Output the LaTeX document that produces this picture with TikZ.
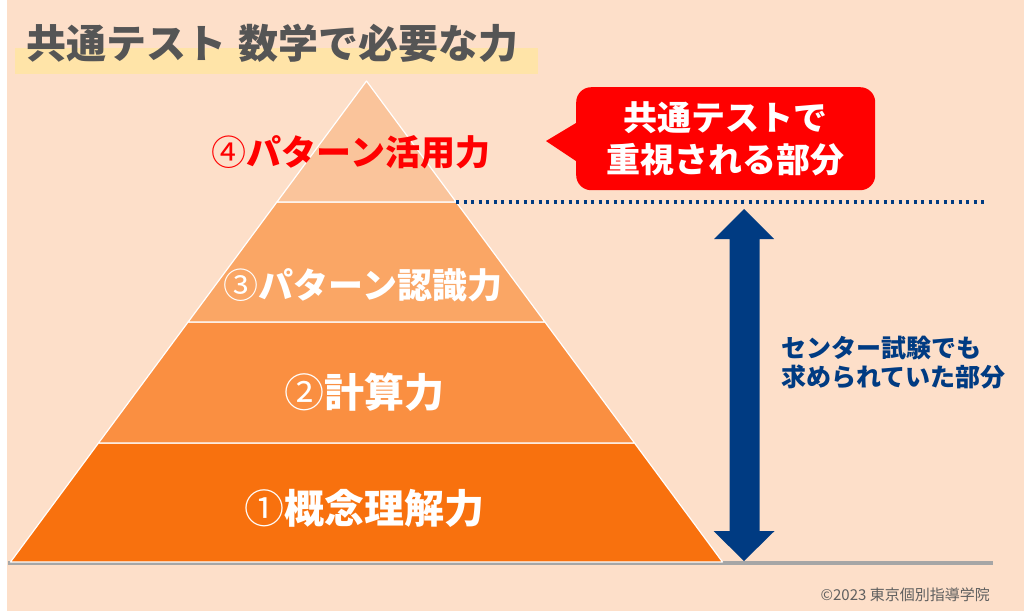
\documentclass[tikz,border=0pt]{standalone}
\usepackage{fontspec}
\setmainfont{Noto Sans CJK JP}
\definecolor{bgpeach}{RGB}{253,223,201}
\definecolor{bandyellow}{RGB}{255,228,168}
\definecolor{titlegray}{RGB}{85,85,85}
\definecolor{layerfour}{RGB}{250,196,155}
\definecolor{layerthree}{RGB}{250,166,101}
\definecolor{layertwo}{RGB}{250,143,65}
\definecolor{layerone}{RGB}{248,113,14}
\definecolor{navy}{RGB}{0,59,130}
\definecolor{basegray}{RGB}{166,166,166}
\definecolor{callred}{RGB}{255,0,0}
\definecolor{copygray}{RGB}{95,95,95}
\newcommand{\cdig}[1]{{\mdseries #1}}
\tikzset{
  layer/.style={draw=white, line width=1.2pt, line join=round},
  lbl/.style={inner sep=0pt, font=\bfseries\fontsize{#1}{#1}\selectfont},
}
\begin{document}
\begin{tikzpicture}[x=1pt,y=-1pt]
\useasboundingbox (0,0) rectangle (1024,614);
\fill[white] (0,0) rectangle (1024,614);
\fill[bgpeach] (7,0) rectangle (1024,611);
% title
\fill[bandyellow] (15,48) rectangle (538,74);
\node[inner sep=0pt, anchor=west, text=titlegray, font=\bfseries\fontsize{40}{40}\selectfont] (title) at (26,43) {共通テスト\hspace{0.3em}数学で必要な力};
% base line
\draw[basegray, line width=4pt] (8,563) -- (993,563);
% pyramid layers
\filldraw[layer, fill=layerone] (10.5,562) -- (722.5,562) -- (634.5,443) -- (98.5,443) -- cycle;
\filldraw[layer, fill=layertwo] (98.5,443) -- (634.5,443) -- (544.9,322) -- (188.1,322) -- cycle;
\filldraw[layer, fill=layerthree] (188.1,322) -- (544.9,322) -- (456.1,202) -- (276.9,202) -- cycle;
\filldraw[layer, fill=layerfour] (276.9,202) -- (456.1,202) -- (366.5,81) -- cycle;
% labels
\node[lbl=35, text=callred] (l4) at (351,152) {\cdig{④}パターン活用力};
\node[lbl=35, text=white] (l3) at (363,285) {\cdig{③}パターン認識力};
\node[lbl=40, text=white] (l2) at (364,392) {\cdig{②}計算力};
\node[lbl=40, text=white] (l1) at (364,508) {\cdig{①}概念理解力};
% dotted line
\coordinate (dotA) at (456,202);
\coordinate (dotB) at (986,202);
\draw[navy, line width=3.2pt, dash pattern=on 3.2pt off 4.3pt] (dotA) -- (dotB);
% callout
\node[fill=callred, rounded corners=15pt, minimum width=299pt, minimum height=103pt, inner sep=0pt, anchor=north west] (call) at (576,87) {};
\fill[callred] (call.west |- 0,123) -- (546,141) -- (call.west |- 0,161) -- cycle;
\node[lbl=34, text=white, align=center] (calltxt) at (725,139) {共通テストで\\[8pt]重視される部分};
% double arrow
\fill[navy] (744,209) -- (774,239) -- (759.5,239) -- (759.5,531) -- (774.5,531) -- (744,561) -- (713.5,531) -- (729.5,531) -- (729.5,239) -- (714,239) -- cycle;
\node[lbl=25, text=navy, align=left, anchor=west] (center) at (781,362.5) {センター試験でも\\[4pt]求められていた部分};
% copyright
\node[inner sep=0pt, anchor=east, text=copygray, font=\fontsize{15}{15}\selectfont] (copy) at (990,595) {©2023 東京個別指導学院};
\end{tikzpicture}
\end{document}
